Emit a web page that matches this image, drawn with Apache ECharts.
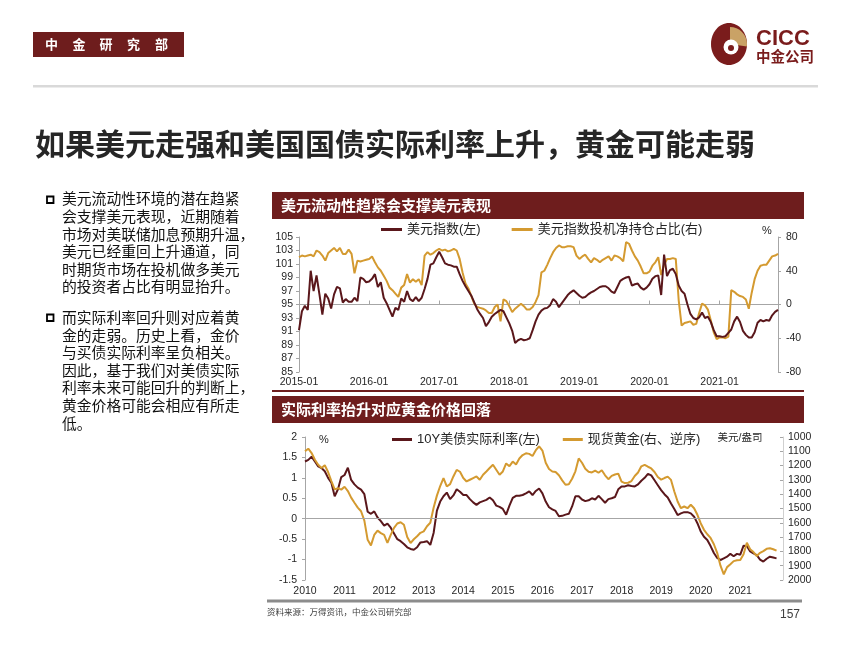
<!DOCTYPE html>
<html><head><meta charset="utf-8">
<script src="https://cdn.jsdelivr.net/npm/echarts@6/dist/echarts.min.js"></script>
<style>html,body{margin:0;padding:0;background:#fff;}#c{width:850px;height:656px;}</style>
</head><body><div id="c"></div>
<script>
// ---------- Chart 1: USD index vs speculative net long share (half-monthly) ----------
const dxyDates = [
'2015-01-01','2015-01-16','2015-02-01','2015-02-16','2015-03-01','2015-03-16','2015-04-01','2015-04-16','2015-05-01','2015-05-16','2015-06-01','2015-06-16','2015-07-01','2015-07-16','2015-08-01','2015-08-16','2015-09-01','2015-09-16','2015-10-01','2015-10-16','2015-11-01','2015-11-16','2015-12-01','2015-12-16',
'2016-01-01','2016-01-16','2016-02-01','2016-02-16','2016-03-01','2016-03-16','2016-04-01','2016-04-16','2016-05-01','2016-05-16','2016-06-01','2016-06-16','2016-07-01','2016-07-16','2016-08-01','2016-08-16','2016-09-01','2016-09-16','2016-10-01','2016-10-16','2016-11-01','2016-11-16','2016-12-01','2016-12-16',
'2017-01-01','2017-01-16','2017-02-01','2017-02-16','2017-03-01','2017-03-16','2017-04-01','2017-04-16','2017-05-01','2017-05-16','2017-06-01','2017-06-16','2017-07-01','2017-07-16','2017-08-01','2017-08-16','2017-09-01','2017-09-16','2017-10-01','2017-10-16','2017-11-01','2017-11-16','2017-12-01','2017-12-16',
'2018-01-01','2018-01-16','2018-02-01','2018-02-16','2018-03-01','2018-03-16','2018-04-01','2018-04-16','2018-05-01','2018-05-16','2018-06-01','2018-06-16','2018-07-01','2018-07-16','2018-08-01','2018-08-16','2018-09-01','2018-09-16','2018-10-01','2018-10-16','2018-11-01','2018-11-16','2018-12-01','2018-12-16',
'2019-01-01','2019-01-16','2019-02-01','2019-02-16','2019-03-01','2019-03-16','2019-04-01','2019-04-16','2019-05-01','2019-05-16','2019-06-01','2019-06-16','2019-07-01','2019-07-16','2019-08-01','2019-08-16','2019-09-01','2019-09-16','2019-10-01','2019-10-16','2019-11-01','2019-11-16','2019-12-01','2019-12-16',
'2020-01-01','2020-01-16','2020-02-01','2020-02-16','2020-03-01','2020-03-16','2020-04-01','2020-04-16','2020-05-01','2020-05-16','2020-06-01','2020-06-16','2020-07-01','2020-07-16','2020-08-01','2020-08-16','2020-09-01','2020-09-16','2020-10-01','2020-10-16','2020-11-01','2020-11-16','2020-12-01','2020-12-16',
'2021-01-01','2021-01-16','2021-02-01','2021-02-16','2021-03-01','2021-03-16','2021-04-01','2021-04-16','2021-05-01','2021-05-16','2021-06-01','2021-06-16','2021-07-01','2021-07-16','2021-08-01','2021-08-16','2021-09-01','2021-09-16','2021-10-01','2021-10-16','2021-11-01'
];
const dxyValues = [
91.2,94.0,94.8,94.2,100.0,97.0,99.3,96.5,93.5,96.6,95.9,94.4,96.5,97.6,97.4,95.3,95.8,95.4,95.4,96.0,95.5,99.0,98.8,98.3,
98.4,98.8,99.5,97.6,98.3,96.0,95.2,94.2,93.2,94.5,94.2,95.9,95.4,97.0,95.8,95.5,96.1,95.5,96.0,97.3,98.8,100.9,101.1,102.0,
102.8,102.0,101.1,100.9,100.8,100.6,100.6,99.5,98.5,97.7,97.0,96.3,95.3,94.3,93.6,93.0,91.8,92.4,93.2,93.6,93.9,94.2,94.0,93.1,
92.2,91.1,89.3,89.7,89.9,89.7,89.8,90.0,91.2,92.5,93.5,94.1,94.4,94.5,94.9,95.8,95.4,94.6,95.2,95.8,96.4,96.8,97.1,96.7,
96.3,96.0,96.1,96.5,96.8,97.0,97.3,97.6,97.7,97.7,97.4,96.9,96.7,97.6,98.5,98.8,99.0,99.1,97.8,98.0,98.1,97.5,97.2,97.5,
98.0,98.8,99.2,99.3,96.4,102.4,99.2,100.1,100.3,99.5,97.8,97.0,96.6,95.0,93.6,93.0,92.8,93.1,93.8,93.0,93.2,92.4,91.2,90.3,
90.3,90.2,90.3,90.8,91.3,92.5,93.2,92.4,91.1,90.5,90.1,90.1,90.9,92.3,92.7,92.5,92.7,92.6,93.4,93.9,94.2
];
const dxyNetLong = [
56,58,57,58,59,57,64,62,58,52,61,64,67,63,67,60,60,65,60,37,52,51,52,53,
54,57,50,44,40,34,28,20,17,13,9,20,23,36,26,30,27,30,23,58,62,59,61,64,
66,64,65,63,64,66,64,54,38,25,19,10,1,-3,-4,-5,-7,-10,-10,-3,0,-20,6,4,
-2,-9,-5,-2,1,-2,-6,-6,-3,3,11,38,40,47,55,62,67,70,68,68,69,69,68,58,
54,57,59,54,50,55,53,50,53,55,57,52,58,57,55,51,74,72,64,57,52,45,37,37,
39,46,50,56,35,47,54,54,55,54,5,-25,-22,-21,-20,-24,-23,-10,1,-1,-6,-19,-33,-41,
-39,-39,-40,-38,17,15,12,10,9,6,-5,14,30,40,46,47,47,52,57,58,60
];
const dxyLeftTicks = {min: 85, max: 105, step: 2};
const netLongRightTicks = {min: -80, max: 80, step: 40};

// ---------- Chart 2: 10Y real yield vs spot gold (monthly) ----------
const months = [
'2010-01','2010-02','2010-03','2010-04','2010-05','2010-06','2010-07','2010-08','2010-09','2010-10','2010-11','2010-12',
'2011-01','2011-02','2011-03','2011-04','2011-05','2011-06','2011-07','2011-08','2011-09','2011-10','2011-11','2011-12',
'2012-01','2012-02','2012-03','2012-04','2012-05','2012-06','2012-07','2012-08','2012-09','2012-10','2012-11','2012-12',
'2013-01','2013-02','2013-03','2013-04','2013-05','2013-06','2013-07','2013-08','2013-09','2013-10','2013-11','2013-12',
'2014-01','2014-02','2014-03','2014-04','2014-05','2014-06','2014-07','2014-08','2014-09','2014-10','2014-11','2014-12',
'2015-01','2015-02','2015-03','2015-04','2015-05','2015-06','2015-07','2015-08','2015-09','2015-10','2015-11','2015-12',
'2016-01','2016-02','2016-03','2016-04','2016-05','2016-06','2016-07','2016-08','2016-09','2016-10','2016-11','2016-12',
'2017-01','2017-02','2017-03','2017-04','2017-05','2017-06','2017-07','2017-08','2017-09','2017-10','2017-11','2017-12',
'2018-01','2018-02','2018-03','2018-04','2018-05','2018-06','2018-07','2018-08','2018-09','2018-10','2018-11','2018-12',
'2019-01','2019-02','2019-03','2019-04','2019-05','2019-06','2019-07','2019-08','2019-09','2019-10','2019-11','2019-12',
'2020-01','2020-02','2020-03','2020-04','2020-05','2020-06','2020-07','2020-08','2020-09','2020-10','2020-11','2020-12',
'2021-01','2021-02','2021-03','2021-04','2021-05','2021-06','2021-07','2021-08','2021-09','2021-10','2021-11','2021-12'
];
const realYield = [
1.40,1.44,1.52,1.40,1.28,1.24,1.16,1.00,0.88,0.55,0.72,1.02,
1.07,1.25,0.95,0.84,0.76,0.71,0.60,0.17,0.12,0.18,0.03,-0.06,
-0.17,-0.12,-0.22,-0.36,-0.50,-0.55,-0.62,-0.70,-0.74,-0.76,-0.70,-0.58,
-0.57,-0.55,-0.64,-0.35,0.20,0.42,0.55,0.64,0.48,0.57,0.72,0.66,
0.58,0.58,0.48,0.40,0.34,0.40,0.43,0.46,0.52,0.45,0.32,0.29,
0.24,0.10,0.32,0.51,0.56,0.56,0.58,0.62,0.67,0.58,0.68,0.74,
0.62,0.42,0.28,0.23,0.19,0.06,0.07,0.10,0.12,0.30,0.55,0.55,
0.47,0.43,0.45,0.50,0.47,0.56,0.48,0.39,0.48,0.50,0.53,0.72,
0.79,0.79,0.82,0.80,0.79,0.84,0.93,1.00,1.10,1.06,0.94,0.82,
0.70,0.60,0.52,0.37,0.24,0.09,0.13,0.16,0.16,0.13,0.05,-0.11,
-0.31,-0.44,-0.52,-0.67,-0.84,-0.96,-1.01,-0.97,-0.93,-0.86,-0.92,-0.86,
-0.88,-0.66,-0.67,-0.80,-0.85,-0.89,-1.00,-1.05,-0.98,-0.93,-0.95,-0.97
];
const goldPrice = [
1100,1082,1112,1159,1194,1217,1198,1245,1308,1366,1358,1368,
1348,1378,1424,1460,1494,1519,1585,1719,1758,1685,1655,1672,
1684,1740,1684,1635,1605,1596,1614,1700,1742,1715,1694,1670,
1660,1624,1600,1495,1410,1343,1287,1346,1330,1276,1230,1243,
1287,1311,1299,1287,1276,1299,1264,1241,1217,1194,1229,1264,
1241,1185,1204,1172,1192,1150,1126,1114,1118,1133,1092,1065,
1095,1180,1224,1241,1245,1268,1303,1334,1330,1292,1240,1150,
1180,1222,1243,1248,1235,1250,1232,1268,1295,1272,1262,1256,
1312,1322,1320,1308,1273,1248,1205,1195,1208,1220,1245,1280,
1298,1287,1277,1300,1381,1451,1498,1486,1498,1474,1498,1544,
1603,1649,1680,1706,1750,1810,1900,1960,1910,1890,1868,1862,
1860,1820,1740,1785,1805,1832,1810,1798,1782,1778,1785,1795
];
const realYieldTicks = {min: -1.5, max: 2, step: 0.5};
const goldTicks = {min: 1000, max: 2000, step: 100};

// ---------- Slide texts ----------
const deptLabel = ['中','金','研','究','部'];
const slideTitle = '如果美元走强和美国国债实际利率上升，黄金可能走弱';
const bullet1Lines = ['美元流动性环境的潜在趋紧','会支撑美元表现，近期随着','市场对美联储加息预期升温，','美元已经重回上升通道，同','时期货市场在投机做多美元','的投资者占比有明显抬升。'];
const bullet2Lines = ['而实际利率回升则对应着黄','金的走弱。历史上看，金价','与买债实际利率呈负相关。','因此，基于我们对美债实际','利率未来可能回升的判断上，','黄金价格可能会相应有所走','低。'];
const chart1Title = '美元流动性趋紧会支撑美元表现';
const chart2Title = '实际利率抬升对应黄金价格回落';
const seriesNames = ['美元指数(左)','美元指数投机净持仓占比(右)','10Y美债实际利率(左)','现货黄金(右、逆序)'];
const sourceNote = '资料来源：万得资讯，中金公司研究部';
const pageNo = '157';

// ---------- Rendering ----------
const FF = '"Liberation Sans", Arial, "Noto Sans CJK SC", sans-serif';
const CJK = '"Noto Sans CJK SC", sans-serif';
const RED = '#6e1d1d';
const DARK = '#5a171b';
const GOLD = '#d49a30';
const AX = '#a6a6a6';
const TXT = '#262626';

const toYear = s => { const p = s.split('-'); return +p[0] + (+p[1] - 1) / 12; };
const yieldData = months.map((m, i) => [toYear(m), realYield[i]]);
const goldData = months.map((m, i) => [toYear(m), goldPrice[i]]);
const isJan1 = (i, v) => v.slice(5) === '01-01';

function txt(x, y, text, font, fill, align, extra) {
  return Object.assign({type: 'text', silent: true, style: {x: x, y: y, text: text, font: font, fill: fill,
    textAlign: align || 'left', textVerticalAlign: 'middle', verticalAlign: 'middle'}}, extra || {});
}

const graphics = [
  {type: 'rect', silent: true, shape: {x: 33, y: 32, width: 151, height: 25}, style: {fill: RED}},
  {type: 'rect', silent: true, shape: {x: 33, y: 85, width: 785, height: 2.5}, style: {fill: '#d9d9d9'}},
  // logo
  {type: 'ellipse', silent: true, shape: {cx: 729, cy: 44, rx: 18, ry: 21}, style: {fill: '#7a1c1c'}},
  {type: 'sector', silent: true, shape: {cx: 730, cy: 44, r: 17, r0: 0, startAngle: -Math.PI / 2, endAngle: 0.15}, style: {fill: '#c9a266'}},
  {type: 'circle', silent: true, shape: {cx: 731, cy: 47, r: 7.5}, style: {fill: '#ffffff'}},
  {type: 'circle', silent: true, shape: {cx: 731, cy: 48, r: 3}, style: {fill: '#7a1c1c'}},
  txt(756, 39, 'CICC', 'bold 22px "Liberation Sans", Arial, sans-serif', '#7a1c1c'),
  txt(756, 56, '中金公司', 'bold 14.5px ' + CJK, '#7a1c1c'),
  txt(35, 144, slideTitle, 'bold 30px ' + CJK, TXT),
  // bullets
  {type: 'rect', silent: true, shape: {x: 47, y: 196.5, width: 6.5, height: 6.5}, style: {fill: '#fff', stroke: '#000', lineWidth: 1.8}},
  {type: 'rect', silent: true, shape: {x: 47, y: 314.5, width: 6.5, height: 6.5}, style: {fill: '#fff', stroke: '#000', lineWidth: 1.8}},
  {type: 'text', silent: true, style: {x: 62, y: 190, text: bullet1Lines.join('\n'), font: '14.8px ' + CJK, fill: '#111', lineHeight: 17.6}},
  {type: 'text', silent: true, style: {x: 62, y: 308.5, text: bullet2Lines.join('\n'), font: '14.8px ' + CJK, fill: '#111', lineHeight: 17.6}},
  // chart panels
  {type: 'rect', silent: true, shape: {x: 272, y: 192, width: 532, height: 27}, style: {fill: RED}},
  txt(281, 205.5, chart1Title, 'bold 15px ' + CJK, '#ffffff'),
  {type: 'rect', silent: true, shape: {x: 272, y: 390, width: 532, height: 2}, style: {fill: RED}},
  {type: 'rect', silent: true, shape: {x: 272, y: 396, width: 532, height: 27}, style: {fill: RED}},
  txt(281, 409.5, chart2Title, 'bold 15px ' + CJK, '#ffffff'),
  txt(767, 231, '%', '11px ' + FF, TXT, 'center'),
  txt(324, 440, '%', '11px ' + FF, TXT, 'center'),
  txt(740, 438, '美元/盎司', '10.5px ' + FF, TXT, 'center'),
  {type: 'rect', silent: true, shape: {x: 267, y: 599.5, width: 535, height: 3}, style: {fill: '#8c8c8c'}},
  txt(267, 612, sourceNote, '8.5px ' + CJK, '#404040'),
  txt(790, 615, pageNo, '12px ' + FF, '#404040', 'center')
];
const deptX = [51.5, 79, 106, 133.5, 161.5];
deptLabel.forEach((c, i) => graphics.push(txt(deptX[i], 44.5, c, 'bold 13px ' + CJK, '#ffffff', 'center')));

const axisLbl = {fontSize: 10.5, color: TXT, fontFamily: FF};
const plain = v => String(v);
const chart = echarts.init(document.getElementById('c'), null, {renderer: 'canvas'});
chart.setOption({
  animation: false,
  backgroundColor: '#ffffff',
  graphic: {elements: graphics},
  legend: [
    {data: [seriesNames[0], seriesNames[1]], left: 381, top: 223, padding: 0, icon: 'rect', itemWidth: 21, itemHeight: 3, itemGap: 31,
      textStyle: {fontSize: 13, color: TXT, fontFamily: FF}, selectedMode: false},
    {data: [seriesNames[2], seriesNames[3]], left: 392, top: 433, padding: 0, icon: 'rect', itemWidth: 20, itemHeight: 3, itemGap: 23,
      textStyle: {fontSize: 13, color: TXT, fontFamily: FF}, selectedMode: false}
  ],
  grid: [
    {left: 299, top: 237, width: 479, height: 135},
    {left: 305, top: 437, width: 478, height: 143}
  ],
  xAxis: [
    {type: 'category', gridIndex: 0, data: dxyDates, boundaryGap: false,
      axisLine: {lineStyle: {color: AX}},
      axisTick: {show: true, inside: true, length: 4, interval: isJan1, lineStyle: {color: AX}},
      axisLabel: Object.assign({interval: isJan1, formatter: v => v.slice(0, 7), margin: 5}, axisLbl),
      splitLine: {show: false}},
    {type: 'value', gridIndex: 1, min: 2010, max: 2022.08, interval: 1,
      axisLine: {show: false}, axisTick: {show: false}, splitLine: {show: false},
      axisLabel: Object.assign({margin: 6, showMaxLabel: false,
        formatter: v => (Math.abs(v - Math.round(v)) < 1e-6 && v <= 2021) ? String(Math.round(v)) : ''}, axisLbl)}
  ],
  yAxis: [
    {type: 'value', gridIndex: 0, position: 'left', min: dxyLeftTicks.min, max: dxyLeftTicks.max, interval: dxyLeftTicks.step,
      axisLine: {show: true, lineStyle: {color: AX}}, axisTick: {show: true, length: 3, lineStyle: {color: AX}},
      axisLabel: Object.assign({margin: 6, formatter: plain}, axisLbl), splitLine: {show: false}},
    {type: 'value', gridIndex: 0, position: 'right', min: netLongRightTicks.min, max: netLongRightTicks.max, interval: netLongRightTicks.step,
      axisLine: {show: true, lineStyle: {color: AX}}, axisTick: {show: true, length: 3, lineStyle: {color: AX}},
      axisLabel: Object.assign({margin: 8, formatter: plain}, axisLbl), splitLine: {show: false}},
    {type: 'value', gridIndex: 1, position: 'left', min: realYieldTicks.min, max: realYieldTicks.max, interval: realYieldTicks.step,
      axisLine: {show: true, lineStyle: {color: AX}}, axisTick: {show: true, length: 3, lineStyle: {color: AX}},
      axisLabel: Object.assign({margin: 8, formatter: plain}, axisLbl), splitLine: {show: false}},
    {type: 'value', gridIndex: 1, position: 'right', inverse: true, min: goldTicks.min, max: goldTicks.max, interval: goldTicks.step,
      axisLine: {show: true, lineStyle: {color: '#d0d0d0'}}, axisTick: {show: true, inside: true, length: 3, lineStyle: {color: AX}},
      axisLabel: Object.assign({margin: 5, formatter: plain}, axisLbl), splitLine: {show: false}}
  ],
  series: [
    {name: seriesNames[0], type: 'line', xAxisIndex: 0, yAxisIndex: 0, data: dxyValues, showSymbol: false, z: 3,
      lineStyle: {color: DARK, width: 2}, itemStyle: {color: DARK}},
    {name: seriesNames[1], type: 'line', xAxisIndex: 0, yAxisIndex: 1, data: dxyNetLong, showSymbol: false, z: 2,
      lineStyle: {color: GOLD, width: 2}, itemStyle: {color: GOLD}},
    {name: seriesNames[2], type: 'line', xAxisIndex: 1, yAxisIndex: 2, data: yieldData, showSymbol: false, z: 2,
      lineStyle: {color: DARK, width: 2}, itemStyle: {color: DARK},
      markLine: {silent: true, symbol: 'none', label: {show: false}, animation: false,
        lineStyle: {color: AX, width: 1, type: 'solid'}, data: [{yAxis: 0}]}},
    {name: seriesNames[3], type: 'line', xAxisIndex: 1, yAxisIndex: 3, data: goldData, showSymbol: false, z: 3,
      lineStyle: {color: GOLD, width: 2}, itemStyle: {color: GOLD}}
  ]
});
</script></body></html>
